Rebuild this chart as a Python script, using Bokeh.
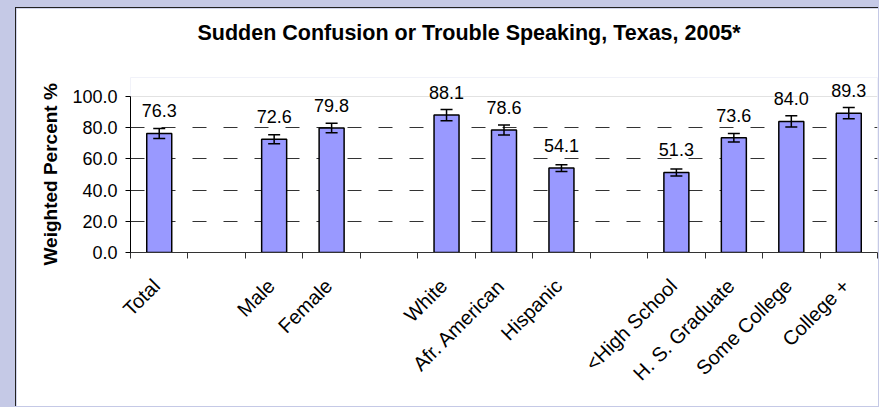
import math
from bokeh.plotting import figure
from bokeh.models import (ColumnDataSource, Whisker, TeeHead, FixedTicker, Span,
                          LabelSet, Range1d, NumeralTickFormatter, LinearAxis, Title)
from bokeh.core.properties import value
from bokeh.embed import file_html
from bokeh.resources import INLINE

chart_title = "Sudden Confusion or Trouble Speaking, Texas, 2005*"
y_label = "Weighted Percent %"

# groups of categories (one empty slot between groups)
group_total = ["Total"]
group_sex = ["Male", "Female"]
group_race = ["White", "Afr. American", "Hispanic"]
group_edu = ["<High School", "H. S. Graduate", "Some College", "College +"]
groups = [group_total, group_sex, group_race, group_edu]

values = [76.3, 72.6, 79.8, 88.1, 78.6, 54.1, 51.3, 73.6, 84.0, 89.3]
ci_half = [3.2, 2.9, 3.1, 3.6, 3.2, 2.2, 2.3, 2.7, 3.6, 3.6]
y_ticks = [0, 20, 40, 60, 80, 100]
grid_ticks = [20, 40, 60, 80]

categories = [c for g in groups for c in g]
xs = []
slot = 0
for gi, g in enumerate(groups):
    if gi > 0:
        slot += 1
    for c in g:
        xs.append(slot + 0.5)
        slot += 1
n_slots = slot

src = ColumnDataSource(dict(
    x=xs, value=values,
    lower=[v - e for v, e in zip(values, ci_half)],
    upper=[v + e for v, e in zip(values, ci_half)],
    label=[f"{v:.1f}" for v in values],
))

FONT = "Liberation Sans"
Y_TOP = 112.2          # room above 100 for the value labels
LABEL_SHIFT = 0.05     # shift of category labels (in slots) to the left

p = figure(width=863, height=399, x_range=Range1d(0, n_slots), y_range=Range1d(0, Y_TOP),
           output_backend="svg", toolbar_location=None, title=None,
           min_border_left=114, min_border_right=2, min_border_top=69, min_border_bottom=155,
           background_fill_color="white", border_fill_color="white", outline_line_color=None,
           margin=(7, 0, 0, 15))
p.styles = {"border-left": "1px solid #222222", "border-top": "1px solid #222222"}
p.extra_x_ranges = {"lab": Range1d(LABEL_SHIFT, n_slots + LABEL_SHIFT)}

# spacer between frame and chart title, then the title itself
p.add_layout(Title(text=" ", text_font_size="1px", standoff=30), "above")
p.add_layout(Title(text=chart_title, align="left", offset=67, standoff=0,
                   text_font=FONT, text_font_size="21.5px", text_font_style="bold",
                   text_color="black"), "above")

# x axis 1: category boundary ticks only
xa = p.xaxis[0]
xa.ticker = FixedTicker(ticks=[], minor_ticks=list(range(n_slots + 1)))
xa.major_tick_out = 6
xa.major_tick_in = 0
xa.minor_tick_out = 6
xa.minor_tick_in = 0
xa.minor_tick_line_color = "#333333"
xa.axis_line_color = "#333333"
xa.major_label_standoff = 0

# x axis 2: category labels
xl = LinearAxis(x_range_name="lab", ticker=FixedTicker(ticks=xs, minor_ticks=[]))
xl.major_label_overrides = {x: c for x, c in zip(xs, categories)}
xl.axis_line_color = None
xl.major_tick_line_color = None
xl.minor_tick_line_color = None
xl.major_tick_out = 0
xl.major_tick_in = 0
xl.major_label_orientation = math.pi / 4
xl.major_label_standoff = 24
xl.major_label_text_font = FONT
xl.major_label_text_font_size = "20px"
xl.major_label_text_color = "black"
p.add_layout(xl, "below")

ya = p.yaxis[0]
ya.ticker = FixedTicker(ticks=y_ticks, minor_ticks=[])
ya.bounds = (0, 100)
ya.formatter = NumeralTickFormatter(format="0.0")
ya.major_tick_out = 5
ya.major_tick_in = 0
ya.major_label_standoff = 8
ya.major_label_text_font = FONT
ya.major_label_text_font_size = "18px"
ya.major_label_text_color = "black"
ya.axis_line_color = "black"
ya.major_tick_line_color = "black"

# y axis title, centred on the 0-100 part of the axis
p.add_layout(Title(text=y_label, align="left", offset=-13, standoff=18,
                   text_font=FONT, text_font_size="19px", text_font_style="bold",
                   text_color="black"), "left")

p.xgrid.visible = False
p.ygrid.ticker = FixedTicker(ticks=grid_ticks, minor_ticks=[])
p.ygrid.grid_line_color = "#333333"
p.ygrid.grid_line_dash = "14 17"
p.ygrid.grid_line_width = 1

p.add_layout(Span(location=100, dimension="width", line_color="#E2E2E2", line_width=1,
                  level="underlay"))

p.vbar(x="x", top="value", bottom=0, width=0.435, source=src,
       fill_color="#9999FF", line_color="black", line_width=1.5)

p.add_layout(Whisker(base="x", lower="lower", upper="upper", source=src,
                     line_color="black", line_width=1.5, level="overlay",
                     upper_head=TeeHead(size=12, line_color="black", line_width=1.5),
                     lower_head=TeeHead(size=12, line_color="black", line_width=1.5)))

p.add_layout(LabelSet(x="x", y="value", text="label", source=src,
                      text_align="center", text_baseline="alphabetic", y_offset=16,
                      text_font=value(FONT), text_font_size=value("18px"),
                      text_color="black"))

html = file_html(p, INLINE, title=chart_title)
html = html.replace("</head>",
                    "<style>html, body { background-color: #C5C9E6 !important; }</style></head>", 1)
open("out.html", "w").write(html)
